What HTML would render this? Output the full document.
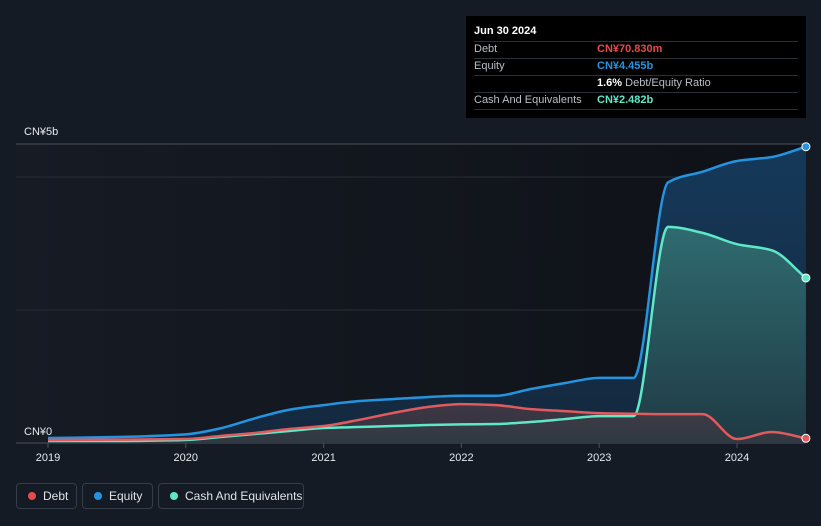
<!DOCTYPE html>
<html><head><meta charset="utf-8"><style>
body{margin:0;width:821px;height:526px;background:#151b24;font-family:"Liberation Sans",sans-serif;overflow:hidden;position:relative}
.tt{position:absolute;left:466px;top:16px;width:340px;height:102px;background:#000}
.tt div{position:absolute;font-size:11px;color:#b9bec6}
.sep{position:absolute;left:8px;width:324px;height:1px;background:#2b2f36}
.lg{position:absolute;top:483px;height:26px;border:1px solid #363d4a;border-radius:4px;box-sizing:border-box;color:#dfe3e8;font-size:12px;line-height:24px}
.dot{display:inline-block;width:8px;height:8px;border-radius:50%;margin:0 7px 0 11px}
</style></head><body>
<svg id="chart" width="821" height="526" style="position:absolute;left:0;top:0">
<defs>
<linearGradient id="bg" x1="0" x2="1" y1="0" y2="0"><stop offset="0" stop-color="#161b24"/><stop offset="1" stop-color="#0e1117"/></linearGradient>
<linearGradient id="ge" x1="0" x2="0" y1="0" y2="1"><stop offset="0" stop-color="#15395a"/><stop offset="1" stop-color="#14283d"/></linearGradient>
<linearGradient id="gc" x1="0" x2="0" y1="0" y2="1"><stop offset="0" stop-color="#2f6b70"/><stop offset="1" stop-color="#1f3a44"/></linearGradient>
<linearGradient id="gd" x1="0" x2="0" y1="0" y2="1"><stop offset="0" stop-color="#4a3a44"/><stop offset="1" stop-color="#333842"/></linearGradient>
</defs>
<rect x="16" y="144" width="789" height="299" fill="url(#bg)"/>
<g id="grid"></g><g id="areas"></g><g id="lines"></g>
<text x="24" y="135" fill="#e6e9ee" font-size="11">CN¥5b</text>
<text x="24" y="435" fill="#e6e9ee" font-size="11">CN¥0</text>
<g id="xt"></g>
</svg>
<div class="tt">
<div style="left:8px;top:9px;color:#fff;font-weight:bold">Jun 30 2024</div>
<span class="sep" style="top:25px"></span>
<div style="left:8px;top:27px">Debt</div><div style="left:131px;top:27px;color:#e64b4b;font-weight:bold">CN¥70.830m</div>
<span class="sep" style="top:42px"></span>
<div style="left:8px;top:44px">Equity</div><div style="left:131px;top:44px;color:#2394df;font-weight:bold">CN¥4.455b</div>
<span class="sep" style="top:59px"></span>
<div style="left:131px;top:61px"><b style="color:#fff">1.6%</b> Debt/Equity Ratio</div>
<span class="sep" style="top:76px"></span>
<div style="left:8px;top:78px">Cash And Equivalents</div><div style="left:131px;top:78px;color:#5ee8c8;font-weight:bold">CN¥2.482b</div>
<span class="sep" style="top:93px"></span>
</div>
<div class="lg" style="left:16px;width:61px"><span class="dot" style="background:#e64b4b"></span>Debt</div>
<div class="lg" style="left:82px;width:71px"><span class="dot" style="background:#2394df"></span>Equity</div>
<div class="lg" style="left:158px;width:146px"><span class="dot" style="background:#5ee8c8"></span>Cash And Equivalents</div>
<script>
const dates=[2019.0,2019.5,2020.0,2020.25,2020.5,2020.75,2021.0,2021.25,2021.5,2021.75,2022.0,2022.25,2022.5,2022.75,2023.0,2023.25,2023.5,2023.75,2024.0,2024.25,2024.5];
const equity=[0.075,0.09,0.13,0.22,0.37,0.5,0.57,0.63,0.66,0.69,0.71,0.71,0.81,0.9,0.98,0.98,3.92,4.08,4.24,4.30,4.455];
const cash=[0.03,0.03,0.045,0.09,0.135,0.18,0.225,0.24,0.255,0.27,0.28,0.285,0.315,0.36,0.405,0.405,3.25,3.16,2.99,2.9,2.482];
const debt=[0.045,0.05,0.06,0.105,0.15,0.21,0.255,0.345,0.45,0.54,0.585,0.57,0.51,0.48,0.45,0.44,0.435,0.435,0.06,0.165,0.071];
const years=[2019,2020,2021,2022,2023,2024];
const gridVals=[0,2,4];
const X=t=>48+(t-2019)*137.8, Y=v=>443-v*66.5;
const NS='http://www.w3.org/2000/svg';
function mk(tag,attrs,parent){const e=document.createElementNS(NS,tag);for(const k in attrs)e.setAttribute(k,attrs[k]);document.getElementById(parent).appendChild(e);return e;}
function mono(xs,ys){const n=xs.length,d=[],m=[];for(let i=0;i<n-1;i++)d.push((ys[i+1]-ys[i])/(xs[i+1]-xs[i]));
m[0]=d[0];m[n-1]=d[n-2];
for(let i=1;i<n-1;i++){if(d[i-1]*d[i]<=0)m[i]=0;else m[i]=2/(1/d[i-1]+1/d[i]);}
let p='M'+xs[0]+','+ys[0];for(let i=0;i<n-1;i++){const h=xs[i+1]-xs[i];p+=' C'+(xs[i]+h/3)+','+(ys[i]+m[i]*h/3)+' '+(xs[i+1]-h/3)+','+(ys[i+1]-m[i+1]*h/3)+' '+xs[i+1]+','+ys[i+1];}return p;}
gridVals.forEach(v=>{const l=mk('line',{x1:16,x2:805,y1:Y(v),y2:Y(v),stroke:v===0?'#4a505a':'#272d37','stroke-width':1},'grid');

});
const topLine=mk('line',{x1:16,x2:805,y1:144,y2:144,stroke:'#4a505a'},'grid');


years.forEach(y=>{const t=mk('line',{x1:X(y),x2:X(y),y1:443,y2:448,stroke:'#4a505a'},'xt');


const tx=mk('text',{x:X(y),y:461,fill:'#e6e9ee','font-size':11,'text-anchor':'middle'},'xt');tx.textContent=y;

});
const xs=dates.map(X);
[[equity,'url(#ge)','#2394df','equity'],[cash,'url(#gc)','#5ee8c8','cash'],[debt,'url(#gd)','#e05a5e','debt']].forEach(([vals,fill,col,nm])=>{
const ys=vals.map(Y),p=mono(xs,ys);
const a=mk('path',{d:p+' L'+xs[xs.length-1]+',443 L'+xs[0]+',443 Z',fill:fill,opacity:nm==='debt'?0.8:1},'areas');


const l=mk('path',{d:p,fill:'none',stroke:col,'stroke-width':2.5},'lines');


const c=mk('circle',{cx:xs[xs.length-1],cy:ys[ys.length-1],r:4,fill:col,stroke:'#fff','stroke-width':1},'lines');

});
</script>
</body></html>
